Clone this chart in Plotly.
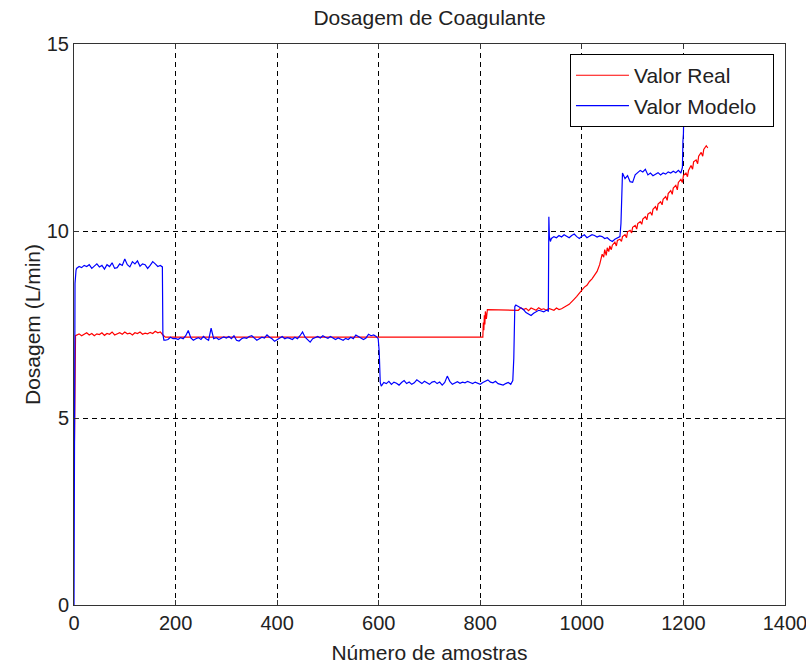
import plotly.graph_objects as go

# ---- Valor Real (red) ----
red_x = [0, 1, 3] + list(range(5, 171, 5)) + [175, 180, 600, 805, 806, 807, 808, 809, 810, 812, 814, 870,
         875, 880, 885, 890, 895, 900, 905, 910, 915, 920, 925, 930, 935, 940, 945, 950, 955, 960,
         965, 970, 975, 980, 985, 990, 995, 1000, 1005, 1010, 1015, 1020, 1025, 1030, 1035, 1040, 1043,
         1045, 1048, 1050, 1053, 1055, 1058, 1060, 1065, 1068, 1070, 1075, 1078, 1080, 1085, 1088, 1090,
         1095, 1098, 1100, 1105, 1108, 1110, 1115, 1118, 1120, 1125, 1128, 1130, 1135, 1138, 1140, 1145,
         1148, 1150, 1155, 1158, 1160, 1165, 1168, 1170, 1175, 1178, 1180, 1185, 1188, 1190, 1195, 1198,
         1200, 1205, 1208, 1210, 1215, 1218, 1220, 1225, 1228, 1230, 1235, 1238, 1240, 1245, 1248]
red_y = [3.84, 4.5, 7.2,
         7.22, 7.25, 7.2, 7.24, 7.28, 7.22, 7.26, 7.2, 7.25, 7.23, 7.28, 7.21, 7.26, 7.24, 7.3, 7.22, 7.26,
         7.28, 7.24, 7.3, 7.25, 7.27, 7.22, 7.28, 7.26, 7.3, 7.24, 7.27, 7.25, 7.29, 7.26, 7.32, 7.28, 7.3,
         7.22, 7.16, 7.16, 7.16, 7.55, 7.35, 7.75, 7.5, 7.85, 7.65, 7.9, 7.9,
         7.88, 7.95, 7.9, 7.93, 7.87, 7.94, 7.9, 7.88, 7.95, 7.9, 7.92, 7.88, 7.93, 7.9, 7.88, 7.94, 7.9, 7.92,
         7.95, 8.0, 8.04, 8.1, 8.18, 8.25, 8.35, 8.42, 8.5, 8.55, 8.65, 8.72, 8.82, 8.92, 9.1, 9.38, 9.3,
         9.5, 9.35, 9.55, 9.45, 9.6, 9.5, 9.62, 9.7, 9.6, 9.75, 9.78, 9.72, 9.85, 9.9, 9.82, 9.98,
         10.02, 9.95, 10.1, 10.15, 10.05, 10.2, 10.25, 10.18, 10.32, 10.38, 10.3, 10.45, 10.5, 10.42, 10.58, 10.65,
         10.55, 10.72, 10.78, 10.7, 10.85, 10.92, 10.82, 11.0, 11.08, 10.98, 11.15, 11.22, 11.1, 11.3, 11.38, 11.3,
         11.48, 11.55, 11.45, 11.62, 11.75, 11.65, 11.85, 11.9, 11.8, 12.0, 12.1, 12.0, 12.18, 12.28, 12.22]

# ---- Valor Modelo (blue) ----
blue_x = ([0, 1, 2, 4] + list(range(5, 171, 5)) + [174, 175, 177]
          + list(range(180, 596, 5)) + [599, 601, 603]
          + list(range(605, 861, 5)) + [864, 866, 868]
          + list(range(870, 931, 5)) + [934, 935, 936, 938]
          + list(range(940, 1076, 5)) + [1077, 1079]
          + list(range(1080, 1196, 5)) + [1198, 1199, 1200, 1201, 1203])
blue_y = ([0.0, 4.0, 8.6, 8.95]
          + [9.0, 9.05, 9.02, 9.08, 9.05, 9.1, 9.0, 9.06, 9.12, 9.04, 9.08, 8.98, 9.1, 9.05, 9.15, 9.0, 9.02,
             9.12, 9.08, 9.25, 9.1, 9.04, 9.18, 9.12, 9.2, 9.06, 9.12, 9.1, 9.0, 9.08, 9.18, 9.12, 9.05, 9.08]
          + [9.04, 7.25, 7.08]
          + [7.08, 7.10, 7.16, 7.12, 7.13, 7.10, 7.15, 7.12, 7.20, 7.34, 7.14, 7.08, 7.12, 7.15, 7.10, 7.18,
             7.12, 7.08, 7.40, 7.12, 7.15, 7.10, 7.13, 7.17, 7.14, 7.18, 7.12, 7.20, 7.08, 7.06, 7.12, 7.15,
             7.13, 7.18, 7.20, 7.15, 7.08, 7.12, 7.16, 7.14, 7.22, 7.16, 7.12, 7.05, 7.10, 7.14, 7.18, 7.12,
             7.15, 7.13, 7.10, 7.16, 7.12, 7.20, 7.30, 7.16, 7.10, 7.03, 7.12, 7.15, 7.18, 7.14, 7.20, 7.16,
             7.13, 7.18, 7.15, 7.10, 7.14, 7.12, 7.08, 7.13, 7.10, 7.16, 7.12, 7.22, 7.18, 7.15, 7.10, 7.14,
             7.24, 7.20, 7.22, 7.18]
          + [7.12, 6.78, 5.95]
          + [5.85, 5.95, 5.92, 5.98, 5.90, 5.96, 5.93, 5.88, 5.95, 6.00, 5.92, 5.96, 5.90, 5.94, 6.02, 5.96,
             5.92, 5.98, 5.94, 5.90, 5.96, 5.98, 5.92, 5.96, 5.88, 5.95, 6.12, 5.98, 5.90, 5.94, 5.97, 5.93,
             5.96, 5.94, 5.98, 5.95, 5.92, 5.96, 5.94, 5.90, 5.95, 5.98, 6.02, 5.96, 5.94, 5.98, 5.92, 5.90,
             5.88, 5.92, 5.95, 5.90]
          + [6.0, 6.6, 7.98]
          + [8.02, 7.98, 7.96, 7.9, 7.82, 7.78, 7.74, 7.8, 7.84, 7.88, 7.86, 7.84, 7.88]
          + [7.86, 10.38, 9.85, 9.72]
          + [9.8, 9.85, 9.82, 9.88, 9.84, 9.9, 9.86, 9.82, 9.88, 9.92, 9.85, 9.8, 9.86, 9.9, 9.82, 9.85,
             9.9, 9.88, 9.84, 9.87, 9.85, 9.8, 9.82, 9.76, 9.72, 9.78, 9.82, 9.85]
          + [10.2, 11.45]
          + [11.55, 11.4, 11.48, 11.32, 11.3, 11.5, 11.55, 11.62, 11.58, 11.65, 11.5, 11.55, 11.48, 11.52,
             11.56, 11.5, 11.55, 11.52, 11.58, 11.55, 11.6, 11.56, 11.62, 11.55]
          + [11.7, 12.4, 12.6, 13.3, 14.2])

x_ticks = [0, 200, 400, 600, 800, 1000, 1200, 1400]
y_ticks = [0, 5, 10, 15]

FONT = "Liberation Sans, Arial, sans-serif"
FS = 20
PAD = "\u00a0\u00a0"

fig = go.Figure()
fig.add_trace(go.Scatter(x=red_x, y=red_y, mode="lines", name="Valor Real" + PAD,
                         line=dict(color="#ff0000", width=1.2)))
fig.add_trace(go.Scatter(x=blue_x, y=blue_y, mode="lines", name="Valor Modelo" + PAD,
                         line=dict(color="#0000ff", width=1.2)))

axis_common = dict(showline=True, linecolor="#333333", linewidth=1, mirror="ticks",
                   ticks="inside", ticklen=5, tickcolor="#333333",
                   showgrid=True, gridcolor="black", gridwidth=1, griddash="5px,4px",
                   zeroline=False, automargin=False, ticklabeloverflow="allow",
                   tickfont=dict(family=FONT, size=FS, color="#222222"))

fig.update_layout(
    width=806, height=664,
    margin=dict(l=74, r=21, t=44, b=59, autoexpand=False),
    paper_bgcolor="white", plot_bgcolor="white",
    title=dict(text="Dosagem de Coagulante", x=0.533, xanchor="center",
               y=1 - 18 / 664, yanchor="middle",
               font=dict(family=FONT, size=21, color="#222222")),
    xaxis=dict(range=[0, 1400], tickvals=x_ticks,
               title=dict(text="Número de amostras", font=dict(family=FONT, size=21, color="#222222"),
                          standoff=14),
               **axis_common),
    yaxis=dict(range=[0, 15], tickvals=y_ticks,
               title=dict(text="Dosagem (L/min)", font=dict(family=FONT, size=21, color="#222222"),
                          standoff=0),
               **axis_common),
    legend=dict(x=0.9845, y=0.982, xanchor="right", yanchor="top",
                bgcolor="white", bordercolor="black", borderwidth=1,
                font=dict(family=FONT, size=21, color="#222222"),
                tracegroupgap=0, itemwidth=53),
    showlegend=True,
)

fig.write_html("out.html", config={"displayModeBar": False},
               post_script="document.body.style.margin='0';document.body.style.overflow='hidden';")
